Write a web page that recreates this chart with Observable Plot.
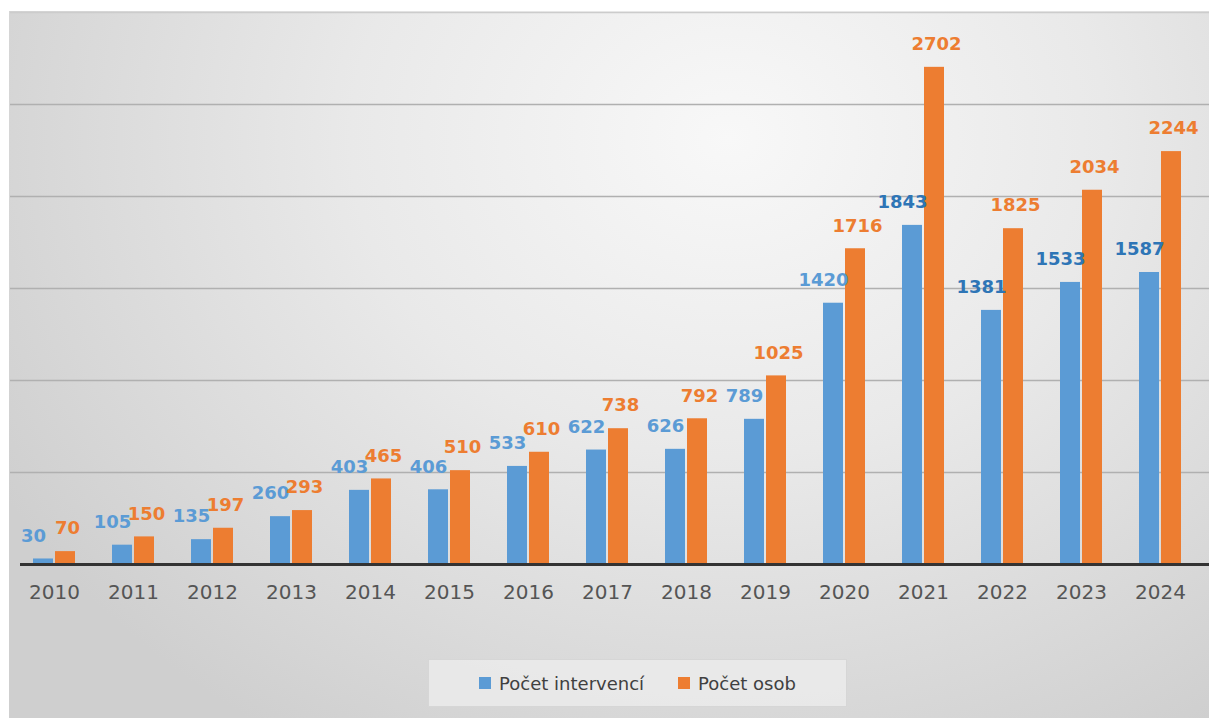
<!DOCTYPE html>
<html>
<head>
<meta charset="utf-8">
<script src="https://cdn.jsdelivr.net/npm/d3@7"></script>
<script src="https://cdn.jsdelivr.net/npm/@observablehq/plot@0.6"></script>
<style>
  body { margin: 0; background: #ffffff; width: 1209px; height: 718px; overflow: hidden; }
  #wrap {
    position: absolute; left: 9px; top: 11px; width: 1200px; height: 707px;
    background: radial-gradient(ellipse 70% 100% at 60% 18%, #f8f8f8 0%, #e9e9e9 45%, #cfcfcf 100%);
    font-family: "DejaVu Sans", sans-serif;
  }
  #chart { position: absolute; left: 0; top: 0; }
  #legend {
    position: absolute; left: 419px; top: 648px; width: 419px; height: 48px;
    background: rgba(236,236,236,0.8); border: 1px solid #d6d6d6; box-sizing: border-box;
    display: flex; align-items: center; justify-content: center; gap: 34px;
    font-size: 18px; color: #404040;
  }
  .item { display: flex; align-items: center; gap: 8px; }
  .sw { width: 12px; height: 12px; display: inline-block; }
</style>
</head>
<body>
<div id="wrap">
  <div id="chart"></div>
  <div id="legend">
    <div class="item"><span class="sw" style="background:#5b9bd5"></span><span>Počet intervencí</span></div>
    <div class="item"><span class="sw" style="background:#ed7d31"></span><span>Počet osob</span></div>
  </div>
</div>
<script>
const years = ["2010","2011","2012","2013","2014","2015","2016","2017","2018","2019","2020","2021","2022","2023","2024"];
const intervence = [30,105,135,260,403,406,533,622,626,789,1420,1843,1381,1533,1587];
const osoby = [70,150,197,293,465,510,610,738,792,1025,1716,2702,1825,2034,2244];
const gridValues = [500,1000,1500,2000,2500];
const topValue = [3000];

const data = years.map((y, i) => ({year: y, a: intervence[i], b: osoby[i]}));
const blue = "#5b9bd5", orange = "#ed7d31";

const plot = Plot.plot({
  width: 1200,
  height: 629,
  marginTop: 1,
  marginBottom: 76,
  marginLeft: 1,
  marginRight: 5,
  style: {background: "transparent", fontFamily: "DejaVu Sans, sans-serif"},
  x: {domain: years, paddingInner: 0.472, paddingOuter: 0.236, axis: null},
  y: {domain: [0, 3000], axis: null},
  marks: [
    Plot.ruleY(topValue, {stroke: "#cccccc", strokeWidth: 1.5, insetRight: -5}),
    Plot.ruleY(gridValues, {stroke: "#b0b0b0", strokeWidth: 1.5, insetRight: -5}),
    Plot.barY(data, {x: "year", y: "a", fill: blue, insetRight: 22}),
    Plot.barY(data, {x: "year", y: "b", fill: orange, insetLeft: 22}),
    Plot.ruleY([0], {stroke: "#333333", strokeWidth: 3, insetLeft: 10, insetRight: -5}),
    Plot.text(data.filter(d => +d.year < 2021), {x: "year", y: "a", text: d => String(d.a), dx: -21, dy: -23,
      fill: blue, fontSize: 18, fontWeight: "bold"}),
    Plot.text(data.filter(d => +d.year >= 2021), {x: "year", y: "a", text: d => String(d.a), dx: -21, dy: -23,
      fill: "#2e75b6", fontSize: 18, fontWeight: "bold"}),
    Plot.text(data, {x: "year", y: "b", text: d => String(d.b), dx: 13, dy: -23,
      fill: orange, fontSize: 18, fontWeight: "bold"}),
    Plot.text(years, {x: d => d, text: d => d, frameAnchor: "bottom", dy: 34, fill: "#555555", fontSize: 20})
  ]
});
document.getElementById("chart").appendChild(plot);
</script>
</body>
</html>
